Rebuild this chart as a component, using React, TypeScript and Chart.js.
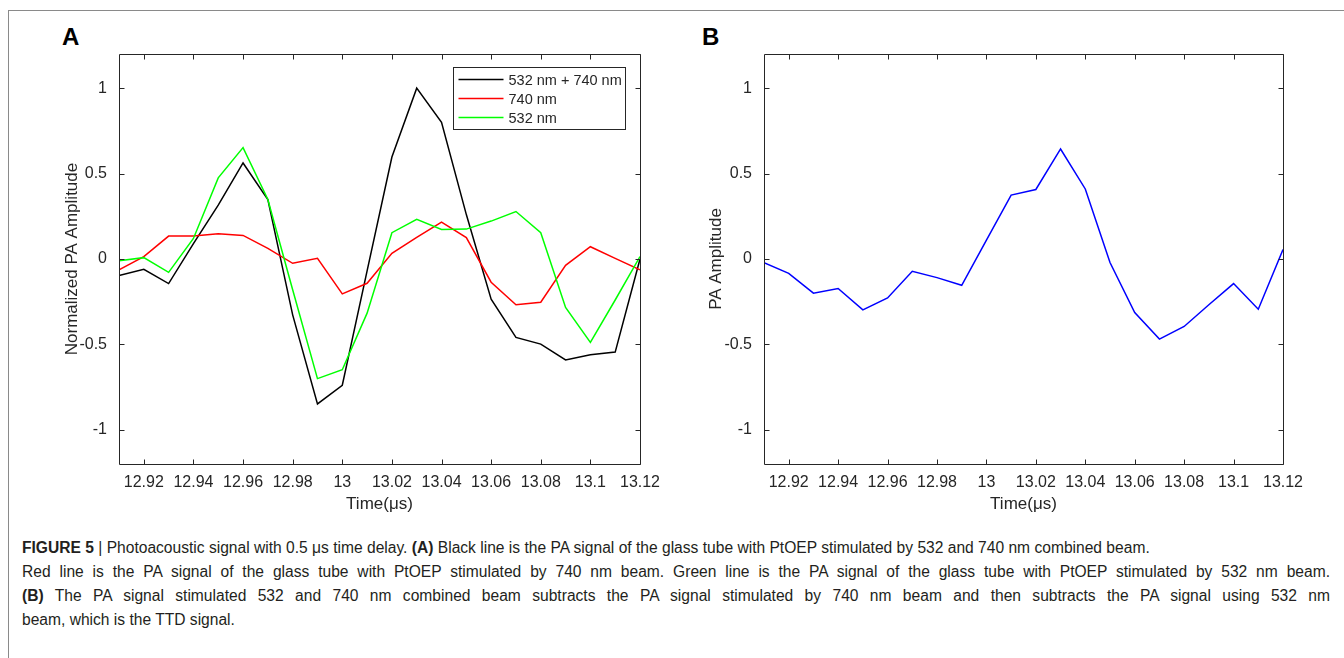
import React, { useEffect, useRef } from "react";
import { Chart, registerables } from "chart.js";

Chart.register(...registerables);

// ---------- data ----------
const timeUs = [
  12.91, 12.92, 12.93, 12.94, 12.95, 12.96, 12.97, 12.98, 12.99, 13.0, 13.01,
  13.02, 13.03, 13.04, 13.05, 13.06, 13.07, 13.08, 13.09, 13.1, 13.11, 13.12,
];
const combined532740 = [
  -0.097, -0.06, -0.144, 0.09, 0.315, 0.562, 0.348, -0.327, -0.848, -0.739, -0.07,
  0.597, 1.0, 0.8, 0.26, -0.235, -0.459, -0.498, -0.591, -0.56, -0.545, 0.0,
];
const only740 = [
  -0.064, 0.014, 0.134, 0.134, 0.148, 0.138, 0.062, -0.025, 0.004, -0.204, -0.142,
  0.033, 0.126, 0.216, 0.125, -0.136, -0.268, -0.253, -0.037, 0.072, 0.004, -0.064,
];
const only532 = [
  -0.01, 0.008, -0.078, 0.12, 0.475, 0.652, 0.348, -0.18, -0.7, -0.648, -0.317,
  0.154, 0.232, 0.173, 0.175, 0.222, 0.278, 0.154, -0.284, -0.488, -0.24, 0.014,
];
const ttdSignal = [
  -0.021, -0.084, -0.2, -0.173, -0.298, -0.228, -0.072, -0.109, -0.154, 0.11, 0.374,
  0.407, 0.644, 0.41, -0.021, -0.313, -0.469, -0.395, -0.268, -0.144, -0.294, 0.056,
];
const seriesLabels = ["532 nm + 740 nm", "740 nm", "532 nm"];
const xTickValues = [12.92, 12.94, 12.96, 12.98, 13.0, 13.02, 13.04, 13.06, 13.08, 13.1, 13.12];
const xTickLabels = ["12.92", "12.94", "12.96", "12.98", "13", "13.02", "13.04", "13.06", "13.08", "13.1", "13.12"];
const yTickValues = [-1, -0.5, 0, 0.5, 1];
const yTickLabels = ["-1", "-0.5", "0", "0.5", "1"];

const FONT = "'Liberation Sans', Arial, Helvetica, sans-serif";
const AXIS = "#262626";
const TICK_FONT = 16;
const TITLE_FONT = 17;

const boxPlugin = {
  id: "matlabBox",
  afterDatasetsDraw(chart: any) {
    const { ctx, chartArea, scales } = chart;
    const l = Math.round(chartArea.left) + 0.5;
    const r = Math.round(chartArea.right) + 0.5;
    const t = Math.round(chartArea.top) + 0.5;
    const b = Math.round(chartArea.bottom) + 0.5;
    ctx.save();
    ctx.strokeStyle = AXIS;
    ctx.lineWidth = 1;
    ctx.beginPath();
    ctx.rect(l, t, r - l, b - t);
    const tl = 5;
    scales.x.ticks.forEach((tk: any) => {
      const px = Math.round(scales.x.getPixelForValue(tk.value)) + 0.5;
      ctx.moveTo(px, b);
      ctx.lineTo(px, b - tl);
      ctx.moveTo(px, t);
      ctx.lineTo(px, t + tl);
    });
    scales.y.ticks.forEach((tk: any) => {
      const py = Math.round(scales.y.getPixelForValue(tk.value)) + 0.5;
      ctx.moveTo(l, py);
      ctx.lineTo(l + tl, py);
      ctx.moveTo(r, py);
      ctx.lineTo(r - tl, py);
    });
    ctx.stroke();
    ctx.restore();
  },
};

const legendPlugin = {
  id: "boxLegend",
  afterDraw(chart: any) {
    const opts = chart.options.plugins.boxLegend;
    if (!opts || !opts.show) return;
    const { ctx, chartArea } = chart;
    const w = 172;
    const h = 62;
    const x0 = Math.round(chartArea.right - 15 - w) + 0.5;
    const y0 = Math.round(chartArea.top + 13) + 0.5;
    ctx.save();
    ctx.fillStyle = "#ffffff";
    ctx.fillRect(x0, y0, w, h);
    ctx.strokeStyle = AXIS;
    ctx.lineWidth = 1;
    ctx.strokeRect(x0, y0, w, h);
    ctx.font = `14.5px ${FONT}`;
    ctx.textBaseline = "middle";
    ctx.textAlign = "left";
    chart.data.datasets.forEach((ds: any, i: number) => {
      const yy = y0 + 12 + i * 19;
      ctx.strokeStyle = ds.borderColor;
      ctx.lineWidth = 1.5;
      ctx.beginPath();
      ctx.moveTo(x0 + 5, yy);
      ctx.lineTo(x0 + 50, yy);
      ctx.stroke();
      ctx.fillStyle = AXIS;
      ctx.fillText(ds.label, x0 + 55, yy + 1);
    });
    ctx.restore();
  },
};

function makeOptions(yTitle: string, yWidth: number, yTitlePad: number, padRight: number, showLegend: boolean): any {
  return {
    responsive: false,
    animation: false,
    events: [],
    layout: { padding: { left: 0, top: 14, right: padRight, bottom: 0 } },
    plugins: {
      legend: { display: false },
      tooltip: { enabled: false },
      boxLegend: { show: showLegend },
    },
    elements: { point: { radius: 0 }, line: { tension: 0, borderWidth: 1.5 } },
    scales: {
      x: {
        type: "linear",
        min: 12.91,
        max: 13.12,
        grid: { display: false },
        border: { display: false },
        afterBuildTicks: (s: any) => {
          s.ticks = xTickValues.map((v) => ({ value: v }));
        },
        afterFit: (s: any) => {
          s.height = 66;
        },
        ticks: {
          autoSkip: false,
          maxRotation: 0,
          padding: 1,
          color: AXIS,
          font: { family: FONT, size: TICK_FONT },
          callback: (_v: any, i: number) => xTickLabels[i],
        },
        title: {
          display: true,
          text: "Time(μs)",
          color: AXIS,
          font: { family: FONT, size: TITLE_FONT },
          padding: { top: 0, bottom: 15 },
        },
      },
      y: {
        type: "linear",
        min: -1.2,
        max: 1.2,
        grid: { display: false },
        border: { display: false },
        afterBuildTicks: (s: any) => {
          s.ticks = yTickValues.map((v) => ({ value: v }));
        },
        afterFit: (s: any) => {
          s.width = yWidth;
        },
        ticks: {
          autoSkip: false,
          padding: 4,
          color: AXIS,
          font: { family: FONT, size: TICK_FONT },
          callback: (_v: any, i: number) => yTickLabels[i],
        },
        title: {
          display: true,
          text: yTitle,
          color: AXIS,
          font: { family: FONT, size: TITLE_FONT },
          padding: { top: yTitlePad, bottom: 0 },
        },
      },
    },
  };
}

function PanelA() {
  const ref = useRef<HTMLCanvasElement>(null);
  useEffect(() => {
    const chart = new Chart(ref.current as HTMLCanvasElement, {
      type: "line",
      data: {
        datasets: [
          { label: seriesLabels[0], data: timeUs.map((t, i) => ({ x: t, y: combined532740[i] })), borderColor: "#000000", order: 3 },
          { label: seriesLabels[1], data: timeUs.map((t, i) => ({ x: t, y: only740[i] })), borderColor: "#ff0000", order: 2 },
          { label: seriesLabels[2], data: timeUs.map((t, i) => ({ x: t, y: only532[i] })), borderColor: "#00ff00", order: 1 },
        ],
      },
      options: makeOptions("Normalized PA Amplitude", 79, 21.8, 40, true),
      plugins: [boxPlugin, legendPlugin],
    } as any);
    return () => chart.destroy();
  }, []);
  return <canvas ref={ref} width={640} height={490} style={{ position: "absolute", left: 40, top: 40, width: 640, height: 490 }} />;
}

function PanelB() {
  const ref = useRef<HTMLCanvasElement>(null);
  useEffect(() => {
    const chart = new Chart(ref.current as HTMLCanvasElement, {
      type: "line",
      data: {
        datasets: [
          { label: "TTD", data: timeUs.map((t, i) => ({ x: t, y: ttdSignal[i] })), borderColor: "#0000ff" },
        ],
      },
      options: makeOptions("PA Amplitude", 74, 16.3, 37, false),
      plugins: [boxPlugin, legendPlugin],
    } as any);
    return () => chart.destroy();
  }, []);
  return <canvas ref={ref} width={630} height={490} style={{ position: "absolute", left: 690, top: 40, width: 630, height: 490 }} />;
}

const capStyle: React.CSSProperties = {
  position: "absolute",
  left: 22,
  width: 1308,
  whiteSpace: "nowrap",
  fontFamily: FONT,
  fontSize: 15.6,
  lineHeight: "24px",
  color: "#231f20",
};

export default function App() {
  return (
    <div style={{ position: "fixed", left: 0, top: 0, width: 1344, height: 658, overflow: "hidden", background: "#fff" }}>
      <div style={{ position: "absolute", left: 8, top: 10, width: 1340, height: 660, borderTop: "1px solid #8a8a8a", borderLeft: "1px solid #8a8a8a" }} />
      <div style={{ position: "absolute", left: 62, top: 25, fontFamily: FONT, fontWeight: "bold", fontSize: 24, lineHeight: "24px", color: "#000" }}>A</div>
      <div style={{ position: "absolute", left: 702, top: 25, fontFamily: FONT, fontWeight: "bold", fontSize: 24, lineHeight: "24px", color: "#000" }}>B</div>
      <PanelA />
      <PanelB />
      <div style={{ ...capStyle, top: 536 }}>
        <b>FIGURE 5</b> | Photoacoustic signal with 0.5 μs time delay. <b>(A)</b> Black line is the PA signal of the glass tube with PtOEP stimulated by 532 and 740 nm combined beam.
      </div>
      <div style={{ ...capStyle, top: 560, textAlign: "justify", textAlignLast: "justify" }}>
        Red line is the PA signal of the glass tube with PtOEP stimulated by 740 nm beam. Green line is the PA signal of the glass tube with PtOEP stimulated by 532 nm beam.
      </div>
      <div style={{ ...capStyle, top: 584, textAlign: "justify", textAlignLast: "justify" }}>
        <b>(B)</b> The PA signal stimulated 532 and 740 nm combined beam subtracts the PA signal stimulated by 740 nm beam and then subtracts the PA signal using 532 nm
      </div>
      <div style={{ ...capStyle, top: 608 }}>beam, which is the TTD signal.</div>
    </div>
  );
}
